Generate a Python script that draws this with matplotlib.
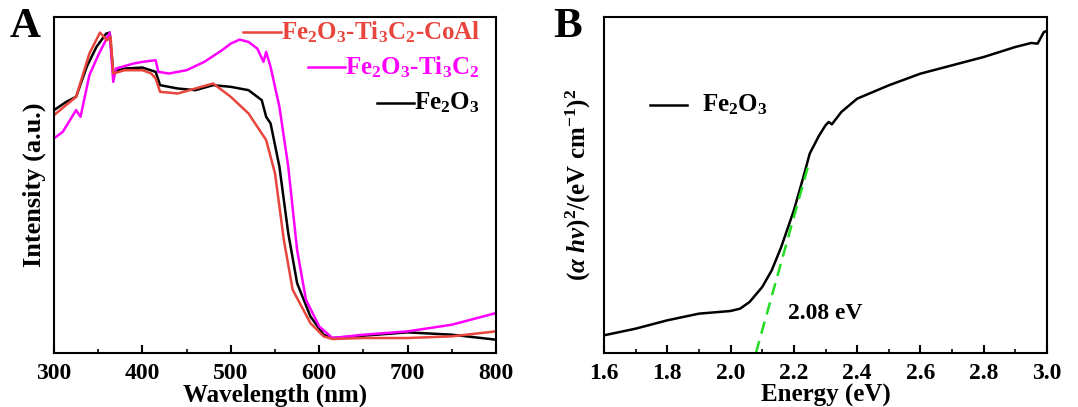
import numpy as np
import matplotlib
matplotlib.use("Agg")
import matplotlib.pyplot as plt
from matplotlib.ticker import MultipleLocator

plt.rcParams['font.family'] = ['Liberation Serif', 'DejaVu Serif']
plt.rcParams['font.weight'] = 'bold'
plt.rcParams['mathtext.fontset'] = 'custom'
plt.rcParams['mathtext.rm'] = 'Liberation Serif:bold'
plt.rcParams['mathtext.it'] = 'Liberation Serif:bold:italic'
plt.rcParams['mathtext.bf'] = 'Liberation Serif:bold'

# UV-vis absorption spectra (a.u.)
wl_fe = [300, 314, 325, 337, 348, 359, 363, 367, 380, 400, 415, 420, 440, 460, 480,
         500, 520, 535, 540, 545, 555, 565, 575, 590, 605, 615, 650, 700, 750, 800]
int_fe = [73, 75.5, 77, 86, 92, 96, 96.3, 84.5, 85.5, 85.8, 84.5, 80.5, 79.5, 79, 80.5,
          80, 79, 76, 71, 69, 56, 36, 21, 11, 5.5, 4.5, 5.2, 6.2, 5.5, 4]

wl_coal = [300, 325, 340, 352, 360, 364, 367, 380, 400, 410, 415, 420, 440, 460, 480,
           500, 520, 535, 540, 550, 560, 570, 590, 605, 615, 650, 700, 750, 800]
int_coal = [71.5, 77, 90, 96.3, 94, 95, 84, 85, 85, 84, 82.5, 78.5, 78, 79.5, 81,
            77, 72, 66, 64, 54, 34, 19, 9, 5, 4.2, 4.5, 4.5, 5, 6.5]

wl_ti = [300, 310, 325, 330, 340, 350, 363, 367, 370, 390, 400, 415, 418, 430, 450, 470,
         490, 500, 510, 520, 530, 537, 540, 545, 555, 565, 575, 585, 600, 615, 650,
         700, 750, 800]
int_ti = [64.5, 66.5, 73, 71, 83.5, 89.5, 96.3, 81.5, 85.5, 87, 87.5, 88, 84.5, 84, 85, 87.5,
          91, 93, 94.2, 93.5, 91.5, 87.5, 90.5, 86, 74, 56, 31, 16, 8, 4.5, 5.5,
          6.5, 8.5, 12]

# Tauc plot of Fe2O3
energy = [1.6, 1.7, 1.8, 1.9, 2.0, 2.03, 2.06, 2.1, 2.13, 2.16, 2.2, 2.23, 2.25, 2.28,
          2.3, 2.31, 2.32, 2.35, 2.4, 2.5, 2.6, 2.7, 2.8, 2.9, 2.95, 2.97, 2.99, 3.0]
tauc = [5.3, 7.3, 9.8, 11.8, 12.6, 13.3, 15.3, 19.8, 24.8, 31.8, 42.8, 52.8, 59.8, 65.3,
        68.3, 69.3, 68.6, 72.3, 76.3, 80.3, 83.8, 86.3, 88.8, 91.8, 93, 92.8, 96.3, 96.6]
band_gap = 2.08
fit_slope = 340
fit_end = 2.25

fig = plt.figure(figsize=(10.78, 4.07), dpi=100)
axA = fig.add_axes([0.0501, 0.1327, 0.410, 0.8256])
axB = fig.add_axes([0.5603, 0.1327, 0.411, 0.8256])

series = [
    (wl_coal, int_coal, '#e8453c', 'Fe$_2$O$_3$-Ti$_3$C$_2$-CoAl', 0.955),
    (wl_ti, int_ti, '#ff00ff', 'Fe$_2$O$_3$-Ti$_3$C$_2$', 0.851),
    (wl_fe, int_fe, 'black', 'Fe$_2$O$_3$', 0.744),
]
for x, y, c, lab, ly in series[::-1]:
    axA.plot(x, y, color=c, lw=1.8)

axA.set_xlim(300, 800)
axA.set_ylim(0, 101)
axA.xaxis.set_major_locator(MultipleLocator(100))
axA.xaxis.set_minor_locator(MultipleLocator(50))
axA.set_yticks([])
axA.set_xlabel('Wavelength (nm)', fontsize=18, fontweight='bold', labelpad=0)
axA.set_ylabel('Intensity (a.u.)', fontsize=19, fontweight='bold', labelpad=6)
axA.text(-0.1, 0.97, 'A', transform=axA.transAxes, fontsize=31, fontweight='bold',
         ha='left', va='center')

axB.plot(energy, tauc, color='black', lw=1.8)
fit_x = np.array([band_gap, fit_end])
axB.plot(fit_x, fit_slope * (fit_x - band_gap), color='#22dd22', lw=1.8, ls=(0, (5, 3)))
axB.text(2.3, 11.8, f'{band_gap:.2f} eV', fontsize=17, fontweight='bold',
         ha='center', va='center')
axB.set_xlim(1.6, 3.0)
axB.set_ylim(0, 100.8)
axB.xaxis.set_major_locator(MultipleLocator(0.2))
axB.xaxis.set_minor_locator(MultipleLocator(0.1))
axB.set_yticks([])
axB.set_xlabel('Energy (eV)', fontsize=18, fontweight='bold', labelpad=0)
axB.set_ylabel(r'$(\alpha\ h\nu)^2$/(eV cm$^{-1}$)$^2$', fontsize=18,
               fontweight='bold', labelpad=8)
axB.text(-0.115, 0.97, 'B', transform=axB.transAxes, fontsize=31, fontweight='bold',
         ha='left', va='center')
axB.plot([0.104, 0.187], [0.738, 0.738], color='black', lw=1.8, transform=axB.transAxes)
axB.text(0.221, 0.738, 'Fe$_2$O$_3$', transform=axB.transAxes, fontsize=18,
         ha='left', va='center')

for ax in (axA, axB):
    for s in ax.spines.values():
        s.set_linewidth(1.5)
    ax.tick_params(axis='x', which='major', direction='in', length=6, width=1.5,
                   labelsize=17, pad=7)
    ax.tick_params(axis='x', which='minor', direction='in', length=3, width=1.2)
    for t in ax.get_xticklabels():
        t.set_fontweight('bold')

# legend of panel A: right-aligned labels with a short line before each
fig.canvas.draw()
rend = fig.canvas.get_renderer()
inv = axA.transAxes.inverted()
for x, y, c, lab, ly in series:
    t = axA.text(0.964, ly, lab, transform=axA.transAxes, fontsize=18, color=c,
                 ha='right', va='center')
    bb = t.get_window_extent(rend)
    x0 = inv.transform((bb.x0, bb.y0))[0]
    axA.plot([x0 - 0.085, x0], [ly, ly], color=c, lw=1.8, transform=axA.transAxes,
             clip_on=False)

fig.savefig('out.png', dpi=100)
